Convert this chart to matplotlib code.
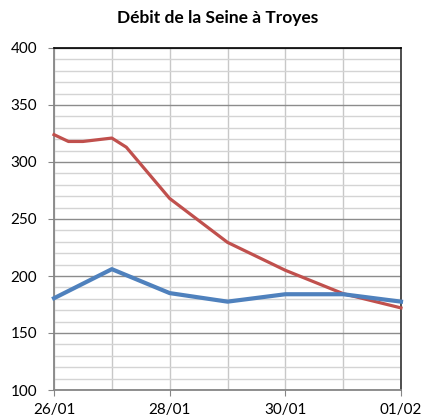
import matplotlib
matplotlib.use("Agg")
import matplotlib.pyplot as plt
from matplotlib.ticker import MultipleLocator

plt.rcParams['font.family'] = ['Lato', 'DejaVu Sans']

title = "Débit de la Seine à Troyes"
tick_labels = ["26/01", "", "28/01", "", "30/01", "", "01/02"]

# time in days since 26/01 00:00
red_t = [0, 0.25, 0.5, 1, 1.25, 2, 3, 4, 5, 6]
red_v = [324, 318, 318, 321, 313, 268, 229.5, 205, 184.5, 172]
blue_t = [0, 1, 2, 3, 4, 5, 6]
blue_v = [180.5, 206, 185, 177.5, 184, 184, 177.5]

fig = plt.figure(figsize=(4.22, 4.19), dpi=100)
ax = fig.add_axes([54/422, 29/419, 347/422, 342/419])

ax.set_xlim(0, 6)
ax.set_ylim(100, 400)

ax.yaxis.set_major_locator(MultipleLocator(50))
ax.yaxis.set_minor_locator(MultipleLocator(10))
ax.set_xticks(range(7))
ax.set_xticklabels(tick_labels)

ax.grid(which='minor', axis='y', color='#D4D4D4', linewidth=1.0)
ax.grid(which='major', axis='y', color='#8C8C8C', linewidth=1.0)
ax.grid(which='major', axis='x', color='#C8C8C8', linewidth=1.0)
ax.set_axisbelow(True)

ax.plot(red_t, red_v, color='#C0504D', linewidth=2.3, solid_joinstyle='round', zorder=3, clip_on=False)
ax.plot(blue_t, blue_v, color='#4F81BD', linewidth=3.0, solid_joinstyle='round', zorder=4, clip_on=False)

for s in ['left', 'bottom']:
    ax.spines[s].set_color('#868686')
    ax.spines[s].set_linewidth(1.3)
ax.spines['top'].set_color('#000000')
ax.spines['top'].set_linewidth(1.2)
ax.spines['right'].set_color('#404040')
ax.spines['right'].set_linewidth(1.3)

ax.tick_params(axis='y', which='major', length=4, color='#868686', labelsize=11, pad=8)
ax.tick_params(axis='y', which='minor', length=0)
ax.tick_params(axis='x', which='major', length=4, color='#868686', labelsize=11, pad=5)
# hide tick marks for unlabeled days
for i, t in enumerate(ax.xaxis.get_major_ticks()):
    if tick_labels[i] == "":
        t.tick1line.set_visible(False)

fig.text(218/422, 1 - 18/419, title, ha='center', va='center', fontsize=12.5, fontweight='bold')

fig.savefig("out.png", dpi=100)
